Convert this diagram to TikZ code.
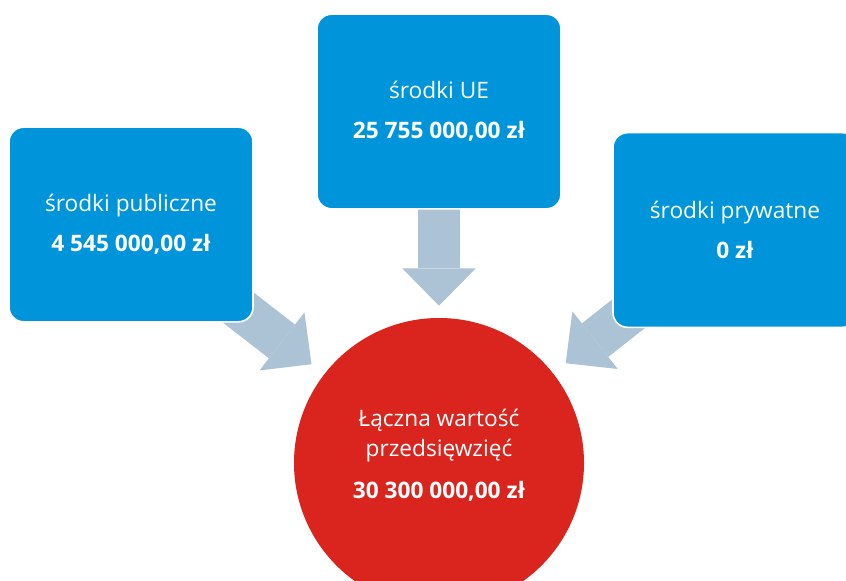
\documentclass[tikz,border=0pt]{standalone}
\usepackage{fontspec}
\setmainfont{Open Sans}
\usepackage{tikz}
\usepackage{xcolor}
\usetikzlibrary{shapes.geometric, arrows.meta, backgrounds}
\definecolor{boxblue}{RGB}{0,149,218}
\definecolor{sumred}{RGB}{217,37,29}
\definecolor{arrowgray}{RGB}{171,195,212}
\tikzstyle{every node}=[font=\fontsize{17}{21}\selectfont, text=white]
\tikzstyle{source} = [rectangle, draw=white, line width=1.2pt, fill=boxblue, align=center, minimum width=183pt, minimum height=146pt, rounded corners=11pt]
\tikzstyle{sumnode} = [circle, fill=sumred, align=center, minimum size=217.5pt, font=\fontsize{17}{22.5}\selectfont]
\tikzstyle{line} = [draw=arrowgray, line width=32pt, -{Triangle[width=55pt, length=28pt, line width=0pt]}, shorten >=12pt]

\begin{document}
\begin{tikzpicture}[x=0.75pt, y=-0.75pt]
    \useasboundingbox (0,0) rectangle (846,581);
    % Place nodes
    \node [source] (publ) at (131,224.5) {środki publiczne\\[9pt]\textbf{4 545 000,00 zł}};
    \node [source] (ue) at (439,111.5) {środki UE\\[9pt]\textbf{25 755 000,00 zł}};
    \node [source] (pryw) at (735,230) {środki prywatne\\[9pt]\textbf{0 zł}};
    \node [sumnode] (sum) at (439,463) {Łączna wartość\\przedsięwzięć\\[9pt]\textbf{30 300 000,00 zł}\\[-8pt]\mbox{}};
    % Draw edges
    \begin{scope}[on background layer]
    \fill [white] (0,0) rectangle (846,581);
    \path [line] (publ.center) -- (sum);
    \path [line, shorten >=9pt] (ue.center) -- (sum);
    \path [line] (pryw.center) -- (sum);
    \end{scope}
\end{tikzpicture}
\end{document}
